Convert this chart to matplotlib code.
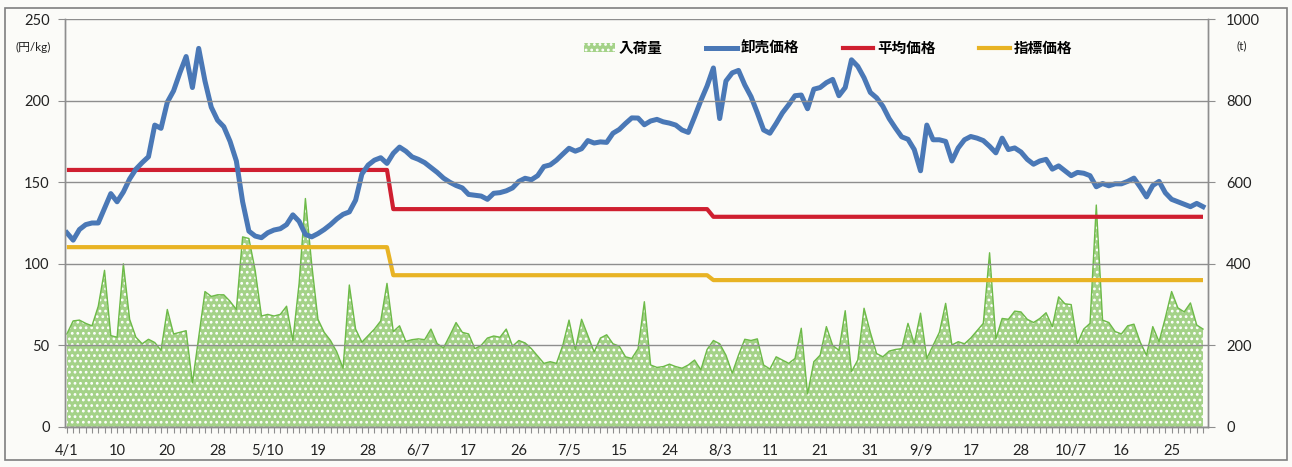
import matplotlib
matplotlib.use("Agg")
import matplotlib.pyplot as plt
from matplotlib.lines import Line2D
from matplotlib.patches import Patch, Rectangle

plt.rcParams["font.family"] = ["Lato", "Noto Sans CJK JP", "DejaVu Sans"]
plt.rcParams["hatch.linewidth"] = 1.2
plt.rcParams["hatch.color"] = "white"

# x tick labels, one every 8 market days (4/1 .. 10/25)
TICK_LABELS = ["4/1", "10", "20", "28", "5/10", "19", "28", "6/7", "17", "26", "7/5",
               "15", "24", "8/3", "11", "21", "31", "9/9", "17", "28", "10/7", "16", "25"]

# 卸売価格 (円/kg)
WHOLESALE = [
    119, 114.5, 121, 124, 125, 125, 134, 143, 138, 144,
    152, 158, 162, 165.6, 185, 183, 199, 206, 217, 227,
    208, 232, 212, 196, 188, 184, 175, 163, 138, 120,
    117, 116, 119, 120.7, 121.5, 124, 130, 126, 118, 116.5,
    118.5, 121, 124, 127.5, 130.3, 131.8, 139, 155, 160.5, 163.5,
    165, 161.5, 167.7, 171.5, 169, 165.5, 164, 162, 159, 156,
    152.5, 150, 148, 146.5, 142.5, 142, 141.5, 139.5, 143.2, 143.6,
    144.7, 146.5, 150.5, 152.4, 151.5, 154, 159.6, 160.6, 163.5, 167.2,
    170.8, 169, 170.5, 175.5, 174, 174.7, 174.4, 180, 182.3, 186,
    189.4, 189.3, 185.2, 187.5, 188.5, 187, 186.2, 185, 182, 180.5,
    190, 200, 209, 220, 189, 212, 217, 218.5, 209.6, 202.4,
    192.5, 182, 180, 186, 192.5, 197.5, 203, 203.4, 195, 207,
    208, 211, 213, 203, 208, 225, 221, 214, 205, 201.7,
    196.5, 189, 183.2, 177.8, 176.3, 170, 157, 185, 176, 176,
    175, 163, 171, 176, 178, 177, 175.5, 172, 168, 177,
    170, 171, 168.5, 164, 161, 163, 164, 158, 160, 157,
    154, 156, 155.5, 154, 147.2, 149.2, 147.8, 149, 149, 150.5,
    152.5, 147, 141, 148, 150.5, 143.5, 139.5, 138, 136.5, 135,
    137, 135,
]

# 入荷量 (t)
ARRIVALS = [
    228, 260, 262, 254, 248, 296, 384, 224, 220, 400,
    264, 220, 204, 215, 207, 188, 288, 228, 232, 236,
    108, 220, 332, 320, 324, 324, 308, 288, 466, 462,
    384, 272, 276, 272, 276, 296, 212, 352, 560, 400,
    264, 232, 212, 184, 144, 348, 240, 208, 224, 240,
    260, 352, 234, 248, 210, 214, 216, 214, 240, 204,
    194, 224, 256, 232, 228, 192, 200, 218, 223, 220,
    240, 198, 212, 206, 192, 174, 156, 160, 156, 200,
    262, 189, 264, 224, 184, 218, 226, 204, 198, 172,
    168, 192, 307, 152, 146, 148, 154, 148, 144, 152,
    164, 140, 190, 212, 204, 176, 132, 176, 215, 212,
    216, 152, 142, 172, 164, 156, 168, 242, 81, 160,
    176, 246, 200, 188, 285, 136, 164, 291, 232, 180,
    172, 186, 190, 192, 254, 204, 279, 168, 200, 232,
    303, 201, 209, 204, 218, 236, 254, 427, 216, 266,
    264, 284, 282, 264, 256, 266, 280, 246, 319, 302,
    300, 205, 240, 254, 544, 262, 256, 234, 228, 248,
    252, 208, 176, 246, 209, 268, 332, 292, 282, 304,
    250, 240,
]

# 平均価格 / 指標価格 (円/kg), step changes at 6/1 and 8/1
AVERAGE = [157.5] * 52 + [133.5] * 51 + [128.8] * 79
INDEX_PRICE = [110.2] * 52 + [93.0] * 51 + [90.0] * 79

BG = "#fbfbf8"
GRID = "#8e8e8e"
C_BLUE = "#4a78b6"
C_RED = "#cf1f30"
C_GOLD = "#e8b324"
C_GREEN = "#a4d288"
C_GREEN_EDGE = "#6dba48"

x = list(range(len(WHOLESALE)))

fig = plt.figure(figsize=(12.92, 4.67), dpi=100, facecolor=BG)
ax = fig.add_axes([0.0503, 0.0857, 0.8847, 0.8736])
ax2 = ax.twinx()

# arrivals on the right axis, behind the price lines
ax2.fill_between(x, ARRIVALS, 0, facecolor=C_GREEN, edgecolor="white",
                 hatch="...", linewidth=0)
ax2.plot(x, ARRIVALS, color=C_GREEN_EDGE, linewidth=1.0)
ax2.set_ylim(0, 1000)
ax2.set_yticks(range(0, 1001, 200))

ax.set_zorder(ax2.get_zorder() + 1)
ax.patch.set_visible(False)
ax2.patch.set_visible(True)
ax2.patch.set_facecolor(BG)

ax.plot(x, INDEX_PRICE, color=C_GOLD, linewidth=3.0, solid_capstyle="butt")
ax.plot(x, AVERAGE, color=C_RED, linewidth=3.0, solid_capstyle="butt")
ax.plot(x, WHOLESALE, color=C_BLUE, linewidth=3.6, solid_joinstyle="round")

ax.set_ylim(0, 250)
ax.set_yticks(range(0, 251, 50))
ax.set_xlim(-0.3, len(x) - 0.2)
ax.set_xticks(range(0, len(x), 8))
ax.set_xticklabels(TICK_LABELS)
ax.set_xticks(x, minor=True)
ax.grid(axis="y", color=GRID, linewidth=1.0)
ax.set_axisbelow(False)

for a in (ax, ax2):
    for side in ("left", "right", "bottom", "top"):
        a.spines[side].set_color(GRID)
        a.spines[side].set_linewidth(1.0)
    a.spines["top"].set_visible(False)

ax.tick_params(axis="x", which="both", length=4, width=0.8, color=GRID,
               labelsize=10.5, pad=8, labelcolor="#222222")
ax.tick_params(axis="y", length=5, width=0.8, color=GRID, labelsize=10.5,
               pad=6, labelcolor="#222222")
ax2.tick_params(axis="y", length=5, width=0.8, color=GRID, labelsize=10.5,
                pad=8, labelcolor="#222222")

fig.text(0.026, 0.899, "(円/kg)", fontsize=8.5, ha="center", va="center",
         color="#222222")
fig.text(0.961, 0.903, "(t)", fontsize=8.5, ha="center", va="center",
         color="#222222")

handles = [
    Patch(facecolor=C_GREEN, edgecolor="white", hatch="...", linewidth=0),
    Line2D([], [], color=C_BLUE, linewidth=3.6),
    Line2D([], [], color=C_RED, linewidth=3.0),
    Line2D([], [], color=C_GOLD, linewidth=3.0),
]
labels = ["入荷量", "卸売価格", "平均価格", "指標価格"]
fig.legend(handles, labels, loc="center", bbox_to_anchor=(0.641, 0.898),
           ncol=4, frameon=False, handlelength=2.1, handleheight=0.6,
           handletextpad=0.25, columnspacing=3.0,
           prop={"family": ["Noto Sans CJK JP"], "weight": "bold", "size": 10.5})

fig.patches.append(Rectangle((0.004, 0.015), 0.992, 0.968, transform=fig.transFigure,
                             fill=False, edgecolor="#7f7f7f", linewidth=1.2))

fig.savefig("out.png", dpi=100, facecolor=BG)
